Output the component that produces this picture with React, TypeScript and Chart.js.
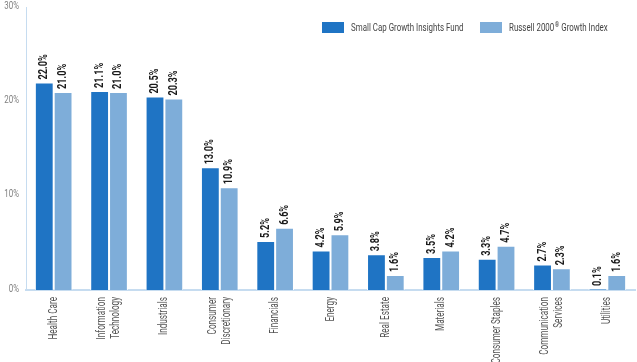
import React, { useEffect, useRef } from "react";
import { Chart, registerables } from "chart.js";

Chart.register(...registerables);

const categories: string[][] = [
  ["Health Care"],
  ["Information", "Technology"],
  ["Industrials"],
  ["Consumer", "Discretionary"],
  ["Financials"],
  ["Energy"],
  ["Real Estate"],
  ["Materials"],
  ["Consumer Staples"],
  ["Communication", "Services"],
  ["Utilities"],
];
const fundValues = [22.0, 21.1, 20.5, 13.0, 5.2, 4.2, 3.8, 3.5, 3.3, 2.7, 0.1];
const indexValues = [21.0, 21.0, 20.3, 10.9, 6.6, 5.9, 1.6, 4.2, 4.7, 2.3, 1.6];
const yTicks = [0, 10, 20, 30];
const seriesNames = ["Small Cap Growth Insights Fund", "Russell 2000\u00AE Growth Index"];
const colors = ["#1f74c4", "#7eadd9"];

const FONT = "Roboto, 'DejaVu Sans', sans-serif";

// draw horizontally-condensed text (emulates a condensed typeface)
function drawText(ctx: any, text: string, x: number, y: number, angle: number, align: string, squeeze: number) {
  ctx.save();
  ctx.translate(x, y);
  if (angle) ctx.rotate(angle);
  ctx.scale(squeeze, 1);
  ctx.textAlign = align;
  ctx.fillText(text, 0, 0);
  ctx.restore();
}

const labelPlugin = {
  id: "valueLabels",
  afterDatasetsDraw(chart: any) {
    const ctx = chart.ctx;
    ctx.save();
    ctx.font = `bold 12px ${FONT}`;
    ctx.fillStyle = "#1a1a1a";
    ctx.textBaseline = "middle";
    chart.data.datasets.forEach((ds: any, di: number) => {
      const meta = chart.getDatasetMeta(di);
      meta.data.forEach((bar: any, i: number) => {
        const v = ds.data[i];
        drawText(ctx, v.toFixed(1) + "%", bar.x, bar.y - 3, -Math.PI / 2, "left", 0.76);
      });
    });
    ctx.restore();
  },
};

const axisTextPlugin = {
  id: "axisText",
  afterDraw(chart: any) {
    const ctx = chart.ctx;
    const xs = chart.scales.x;
    const ys = chart.scales.y;
    ctx.save();
    // category labels
    ctx.font = `12px ${FONT}`;
    ctx.fillStyle = "#555";
    ctx.textBaseline = "middle";
    categories.forEach((lines, i) => {
      const cx = xs.getPixelForValue(i);
      const lh = 14;
      const n = lines.length;
      lines.forEach((line, li) => {
        const x = cx + (li - (n - 1) / 2) * lh;
        drawText(ctx, line, x, xs.top + 7, -Math.PI / 2, "right", 0.68);
      });
    });
    // y ticks
    ctx.fillStyle = "#808080";
    ctx.font = `11px ${FONT}`;
    yTicks.forEach((v) => {
      drawText(ctx, v + "%", ys.right - 7, ys.getPixelForValue(v) - 1, 0, "right", 0.72);
    });
    // legend
    const boxX = [322, 480];
    const y = 22;
    const sq = 0.72;
    seriesNames.forEach((name, i) => {
      ctx.fillStyle = colors[i];
      ctx.fillRect(boxX[i], y, 22, 11);
      ctx.fillStyle = "#444";
      const tx = boxX[i] + 29;
      const ty = y + 6;
      if (name.includes("\u00AE")) {
        const [a, b] = name.split("\u00AE");
        ctx.font = `11px ${FONT}`;
        drawText(ctx, a, tx, ty, 0, "left", sq);
        let w = ctx.measureText(a).width * sq;
        ctx.font = `8px ${FONT}`;
        drawText(ctx, "\u00AE", tx + w + 0.5, ty - 3, 0, "left", sq);
        w += ctx.measureText("\u00AE").width * sq + 0.5;
        ctx.font = `11px ${FONT}`;
        drawText(ctx, b, tx + w, ty, 0, "left", sq);
      } else {
        ctx.font = `11px ${FONT}`;
        drawText(ctx, name, tx, ty, 0, "left", sq);
      }
    });
    ctx.restore();
  },
};

export default function App() {
  const ref = useRef<HTMLCanvasElement | null>(null);
  useEffect(() => {
    if (!ref.current) return;
    const chart = new Chart(ref.current, {
      type: "bar",
      data: {
        labels: categories.map((c) => c.join(" ")),
        datasets: [
          {
            label: seriesNames[0],
            data: fundValues,
            backgroundColor: colors[0],
            borderColor: "#ffffff",
            borderWidth: 1,
            categoryPercentage: 0.68,
            barPercentage: 1.0,
          },
          {
            label: seriesNames[1],
            data: indexValues,
            backgroundColor: colors[1],
            borderColor: "#ffffff",
            borderWidth: 1,
            categoryPercentage: 0.68,
            barPercentage: 1.0,
          },
        ],
      },
      options: {
        animation: false,
        responsive: false,
        maintainAspectRatio: false,
        layout: { padding: { top: 7, right: 2, left: 0, bottom: 0 } },
        plugins: { legend: { display: false }, tooltip: { enabled: false } },
        scales: {
          x: {
            grid: { display: false, drawTicks: false },
            border: { display: true, color: "#c6dcf0", width: 2 },
            ticks: { display: false },
            afterFit(scale: any) {
              scale.height = 72;
            },
          },
          y: {
            min: 0,
            max: 30,
            grid: { display: false, drawTicks: false },
            border: { display: true, color: "#c6dcf0", width: 1 },
            ticks: { display: false, stepSize: 10 },
            afterFit(scale: any) {
              scale.width = 26;
            },
          },
        },
      },
      plugins: [labelPlugin, axisTextPlugin],
    });
    return () => chart.destroy();
  }, []);
  return (
    <div style={{ position: "fixed", left: 0, top: 0, width: 637, height: 362, background: "#fff" }}>
      <canvas ref={ref} width={637} height={362} style={{ width: 637, height: 362 }} />
    </div>
  );
}
